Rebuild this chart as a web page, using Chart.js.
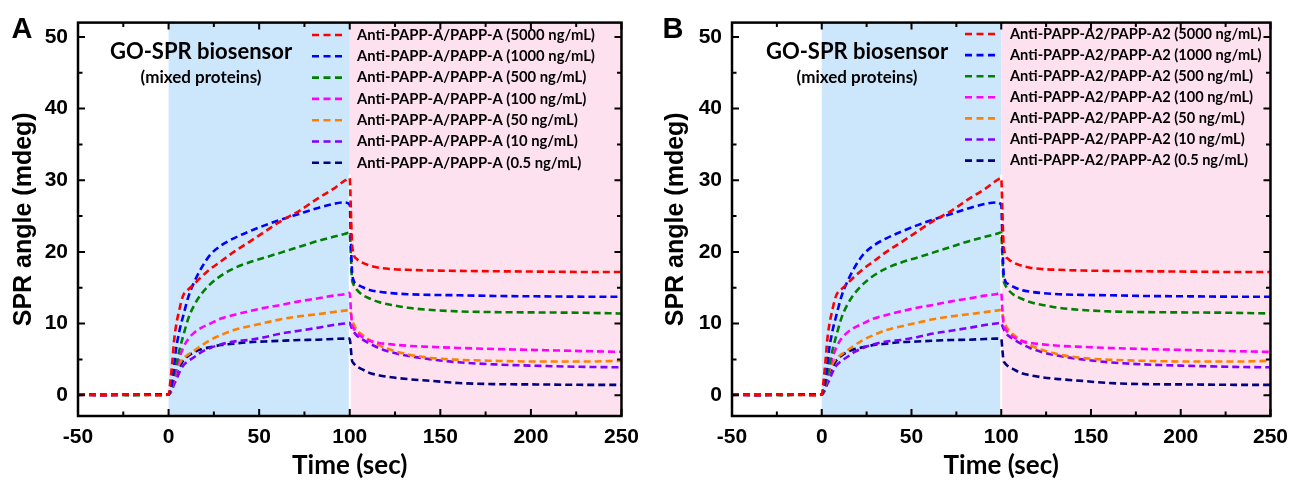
<!DOCTYPE html>
<html lang="en">
<head>
  <meta charset="UTF-8" />
  <title>GO-SPR biosensor - SPR angle vs time</title>
  <script src="https://cdn.jsdelivr.net/npm/chart.js"></script>
  <style>
    body {
      margin: 0;
      background: #fff;
      width: 1297px;
      height: 482px;
      position: relative;
      overflow: hidden;
    }
    canvas {
      position: absolute;
      top: 0;
    }
    #panelA { left: 0; }
    #panelB { left: 648px; }
  </style>
</head>
<body>
  <canvas id="panelA" width="648" height="482"></canvas>
  <canvas id="panelB" width="649" height="482"></canvas>

  <script>
    // time points (sec)
    const times = [-50, -35, -20, -5, 0, 1, 2, 3, 4, 6, 8, 11, 14, 18, 23, 29, 36, 44, 53, 62,
                   72, 82, 91, 97, 100, 100.6, 101.2, 102, 104, 107, 111, 116, 123, 132, 145, 160, 180, 205, 230, 250];

    // SPR angle (mdeg) for each concentration
    const s5000 = [0.1, 0, 0.1, 0, 0.1, 2.0, 4.5, 7.5, 9.5, 12.0, 13.9, 14.8, 15.5, 16.5, 17.6, 18.7, 20.0, 21.3, 22.8, 24.3,
                   25.7, 27.4, 28.8, 29.9, 30.3, 26.0, 21.5, 19.8, 19.0, 18.5, 18.1, 17.8, 17.6, 17.5, 17.4, 17.35, 17.3, 17.25, 17.2, 17.2];
    const s1000 = [0.1, 0, 0.1, 0.1, 0.1, 0.8, 2.0, 4.0, 6.2, 9.0, 11.0, 13.8, 15.7, 17.7, 19.6, 20.9, 21.9, 22.8, 23.7, 24.5,
                   25.3, 26.1, 26.7, 26.9, 26.6, 22.0, 17.5, 16.1, 15.5, 15.1, 14.7, 14.45, 14.25, 14.1, 14.0, 13.95, 13.85, 13.8, 13.75, 13.75];
    const s500  = [0.1, 0.1, 0, 0.1, 0.1, 0.5, 1.5, 2.8, 4.0, 6.3, 8.2, 10.8, 12.5, 14.1, 15.5, 16.7, 17.7, 18.5, 19.2, 19.9,
                   20.7, 21.5, 22.1, 22.5, 22.7, 19.5, 16.3, 15.5, 14.7, 14.0, 13.5, 13.0, 12.6, 12.2, 11.9, 11.7, 11.6, 11.55, 11.5, 11.4];
    const s100  = [0.05, 0.1, 0.05, 0.1, 0.1, 0.5, 1.3, 2.3, 3.4, 5.2, 6.6, 7.9, 8.7, 9.4, 10.0, 10.7, 11.2, 11.7, 12.2, 12.6,
                   13.1, 13.5, 13.9, 14.1, 14.3, 12.0, 10.0, 9.4, 8.7, 8.1, 7.6, 7.3, 7.1, 6.9, 6.75, 6.6, 6.45, 6.3, 6.15, 6.05];
    const s50   = [0.1, 0.05, 0.1, 0.05, 0.1, 0.5, 1.3, 2.3, 3.2, 4.4, 5.1, 5.7, 6.2, 6.9, 7.7, 8.4, 9.1, 9.6, 10.1, 10.6,
                   11.0, 11.3, 11.6, 11.8, 11.9, 11.4, 10.6, 10.0, 9.1, 8.4, 7.7, 7.0, 6.3, 5.7, 5.2, 4.95, 4.8, 4.7, 4.7, 4.8];
    const s10   = [0.05, 0.1, 0.05, 0.1, 0.1, 0.3, 0.8, 1.5, 2.0, 3.2, 4.1, 4.8, 5.3, 6.0, 6.6, 7.1, 7.5, 7.7, 8.1, 8.6,
                   9.0, 9.4, 9.8, 10.0, 10.1, 9.7, 9.3, 8.9, 8.3, 7.8, 7.2, 6.6, 6.0, 5.5, 5.0, 4.6, 4.3, 4.1, 3.95, 3.9];
    const s05   = [0.1, 0.05, 0.1, 0.05, 0.1, 0.6, 1.4, 2.3, 3.0, 3.9, 4.8, 5.5, 6.0, 6.4, 6.7, 7.0, 7.2, 7.4, 7.5, 7.6,
                   7.7, 7.75, 7.85, 7.9, 7.9, 6.5, 4.9, 4.5, 4.0, 3.6, 3.1, 2.8, 2.5, 2.25, 2.0, 1.7, 1.55, 1.5, 1.45, 1.45];

    const seriesVals = [s5000, s1000, s500, s100, s50, s10, s05];
    const conc = ['5000', '1000', '500', '100', '50', '10', '0.5'];
    const colors = ['#ff0000', '#0000ff', '#008000', '#ff00ff', '#ff8000', '#8000ff', '#000080'];

    const xTicks = [-50, 0, 50, 100, 150, 200, 250];
    const xMinor = [-25, 25, 75, 125, 175, 225];
    const yTicks = [0, 10, 20, 30, 40, 50];
    const yMinor = [5, 15, 25, 35, 45];

    // association (buffer + protein) and dissociation windows
    const assocStart = 0;
    const dissocStart = 100;

    const calibri = 'Lato, "Open Sans", sans-serif';
    const arial = '"Liberation Sans", Arial, sans-serif';

    const panelDecor = {
      id: 'panelDecor',
      beforeDatasetsDraw(chart) {
        const { ctx, chartArea: a, scales: { x, y } } = chart;
        const x0 = x.getPixelForValue(assocStart);
        const x1 = x.getPixelForValue(dissocStart);
        ctx.save();
        ctx.fillStyle = '#cce6fb';
        ctx.fillRect(x0, a.top, x1 - x0, a.bottom - a.top);
        ctx.fillStyle = '#fde1ee';
        ctx.fillRect(x1, a.top, a.right - x1, a.bottom - a.top);
        // thin white seam between the two phases
        const yg = y.getPixelForValue(30.8);
        ctx.fillStyle = '#fff';
        ctx.fillRect(x1 - 1, yg, 2, a.bottom - yg);
        ctx.restore();
      },
      afterDraw(chart, args, opts) {
        const { ctx, chartArea: a, scales: { x, y } } = chart;
        ctx.save();
        ctx.strokeStyle = '#000';
        ctx.lineWidth = 2.5;
        ctx.strokeRect(a.left, a.top, a.right - a.left, a.bottom - a.top);

        ctx.lineWidth = 2;
        const tick = (vals, len) => {
          vals.forEach(v => {
            const px = x.getPixelForValue(v);
            ctx.beginPath();
            ctx.moveTo(px, a.bottom); ctx.lineTo(px, a.bottom - len);
            ctx.moveTo(px, a.top); ctx.lineTo(px, a.top + len);
            ctx.stroke();
          });
        };
        const ytick = (vals, len) => {
          vals.forEach(v => {
            const py = y.getPixelForValue(v);
            ctx.beginPath();
            ctx.moveTo(a.left, py); ctx.lineTo(a.left + len, py);
            ctx.moveTo(a.right, py); ctx.lineTo(a.right - len, py);
            ctx.stroke();
          });
        };
        tick(xTicks, 7);
        tick(xMinor, 4.5);
        ytick(yTicks, 7);
        ytick(yMinor, 4.5);

        // panel letter
        ctx.fillStyle = '#000';
        ctx.textAlign = 'center';
        ctx.textBaseline = 'middle';
        ctx.font = 'bold 29px ' + arial;
        ctx.fillText(opts.letter, opts.letterX, 30);

        // annotation
        ctx.font = 'bold 22px ' + calibri;
        ctx.fillText('GO-SPR biosensor', opts.noteX, 52);
        ctx.font = 'bold 17px ' + calibri;
        ctx.fillText('(mixed proteins)', opts.noteX, 78);

        // legend
        ctx.textAlign = 'left';
        ctx.font = 'bold ' + opts.legendSize + 'px ' + calibri;
        chart.data.datasets.forEach((ds, i) => {
          const ly = opts.legendY + i * opts.legendDy;
          ctx.strokeStyle = ds.borderColor;
          ctx.lineWidth = 2.6;
          ctx.setLineDash([7, 4.5]);
          ctx.beginPath();
          ctx.moveTo(opts.legendX, ly);
          ctx.lineTo(opts.legendX + 33, ly);
          ctx.stroke();
          ctx.setLineDash([]);
          ctx.fillStyle = '#000';
          ctx.fillText(ds.label, opts.legendX + 45, ly);
        });
        ctx.restore();
      }
    };

    function makePanel(id, prefix, cfg) {
      new Chart(document.getElementById(id), {
        type: 'line',
        data: {
          datasets: seriesVals.map((vals, i) => ({
            label: prefix + ' (' + conc[i] + ' ng/mL)',
            data: times.map((t, k) => ({ x: t, y: vals[k] })),
            borderColor: colors[i],
            borderWidth: 2.6,
            borderDash: [7, 4],
            pointRadius: 0,
            cubicInterpolationMode: 'monotone',
            fill: false
          }))
        },
        options: {
          responsive: false,
          animation: false,
          events: [],
          layout: { padding: { top: 15, right: cfg.rightPad, left: 0, bottom: 0 } },
          scales: {
            x: {
              type: 'linear',
              min: -50,
              max: 250,
              afterBuildTicks: s => { s.ticks = xTicks.map(v => ({ value: v })); },
              afterFit: s => { s.height = 66; },
              grid: { display: false, drawTicks: false },
              border: { display: false },
              ticks: {
                padding: 9, color: '#000', autoSkip: false, maxRotation: 0,
                font: { family: arial, weight: 'bold', size: 21 }
              },
              title: {
                display: true, text: 'Time (sec)', color: '#000',
                font: { family: calibri, weight: 'bold', size: 26 },
                padding: { top: 0, bottom: 1 }
              }
            },
            y: {
              type: 'linear',
              min: -2.9,
              max: 52,
              afterBuildTicks: s => { s.ticks = yTicks.map(v => ({ value: v })); },
              afterFit: s => { s.width = cfg.yWidth; },
              grid: { display: false, drawTicks: false },
              border: { display: false },
              ticks: {
                padding: 10, color: '#000', autoSkip: false,
                font: { family: arial, weight: 'bold', size: 21 }
              },
              title: {
                display: true, text: 'SPR angle (mdeg)', color: '#000',
                font: { family: arial, weight: 'bold', size: 25 },
                padding: { top: cfg.yTitlePad, bottom: 0 }
              }
            }
          },
          plugins: {
            legend: { display: false },
            tooltip: { enabled: false },
            panelDecor: cfg.decor
          }
        },
        plugins: [panelDecor]
      });
    }

    makePanel('panelA', 'Anti-PAPP-A/PAPP-A', {
      yWidth: 78, rightPad: 24, yTitlePad: 9,
      decor: { letter: 'A', letterX: 22, noteX: 201, legendX: 312, legendY: 35, legendDy: 21.3, legendSize: 14.8 }
    });
    makePanel('panelB', 'Anti-PAPP-A2/PAPP-A2', {
      yWidth: 84, rightPad: 21, yTitlePad: 13,
      decor: { letter: 'B', letterX: 25, noteX: 209, legendX: 317, legendY: 34, legendDy: 21.1, legendSize: 14.6 }
    });
  </script>
</body>
</html>
